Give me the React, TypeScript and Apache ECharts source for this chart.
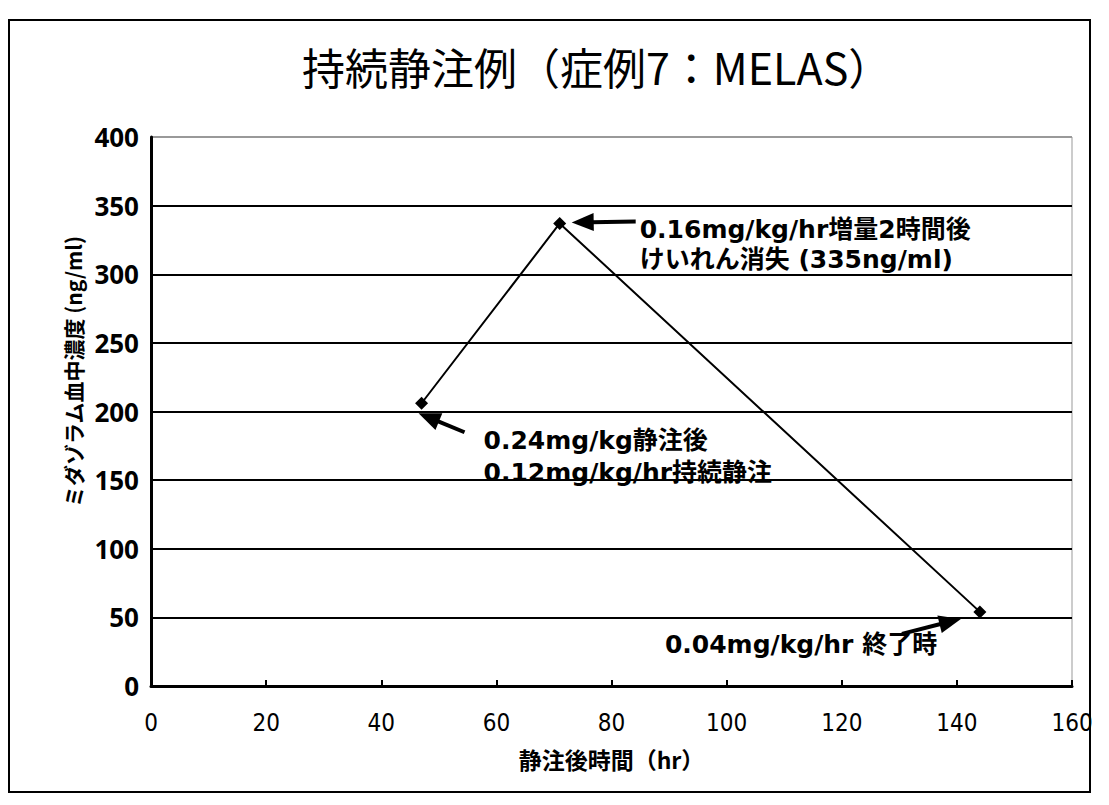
import React, { useEffect, useRef } from "react";
import * as echarts from "echarts";

const titleText = "持続静注例（症例7：MELAS）";
const xAxisName = "静注後時間（hr）";
const yAxisName = "ミダゾラム血中濃度 (ng/ml)";
const hours = [47, 71, 144];
const concentrations = [206, 337, 54];
const noteInitial = ["0.24mg/kg静注後", "0.12mg/kg/hr持続静注"];
const notePeak = ["0.16mg/kg/hr増量2時間後", "けいれん消失 (335ng/ml)"];
const noteEnd = ["0.04mg/kg/hr 終了時"];
const xMin = 0, xMax = 160, xStep = 20;
const yMin = 0, yMax = 400, yStep = 50;

const FONT_NUM = "'Noto Sans', 'DejaVu Sans', sans-serif";
const FONT_NARROW = "'Liberation Sans Narrow', 'DejaVu Sans Condensed', 'Noto Sans', sans-serif";
const FONT_JP = "'Noto Sans CJK JP', 'Noto Sans', sans-serif";
const FONT_NOTE = "'DejaVu Sans', 'Noto Sans CJK JP', sans-serif";

function arrow(x1: number, y1: number, x2: number, y2: number) {
  const dx = x2 - x1, dy = y2 - y1;
  const len = Math.sqrt(dx * dx + dy * dy);
  const ux = dx / len, uy = dy / len;
  const head = 22, half = 9;
  const bx = x2 - ux * head, by = y2 - uy * head;
  const px = -uy, py = ux;
  return [
    { type: "line", shape: { x1, y1, x2: bx + ux * 2, y2: by + uy * 2 }, style: { stroke: "#000", lineWidth: 4 }, silent: true },
    {
      type: "polygon",
      shape: { points: [[x2, y2], [bx + px * half, by + py * half], [bx - px * half, by - py * half]] },
      style: { fill: "#000" },
      silent: true,
    },
  ];
}

function note(lines: string[], x: number, y: number, lh: number) {
  return {
    type: "text",
    x,
    y,
    silent: true,
    style: {
      text: lines.join("\n"),
      fill: "#000",
      fontFamily: FONT_NOTE,
      fontSize: 25,
      fontWeight: "bold",
      lineHeight: lh,
      verticalAlign: "middle",
      align: "left",
    },
  };
}

export default function App() {
  const ref = useRef<HTMLDivElement>(null);
  useEffect(() => {
    if (!ref.current) return;
    const chart = echarts.init(ref.current, null, { renderer: "svg" });
    const lineCount = (yMax - yMin) / yStep + 1;
    const splitColors = Array.from({ length: lineCount }, (_, i) => (i === lineCount - 1 ? "#999" : "#000"));
    chart.setOption({
      animation: false,
      backgroundColor: "#fff",
      title: {
        text: titleText,
        left: 297,
        top: 39,
        textStyle: { fontFamily: FONT_JP, fontSize: 43, fontWeight: "normal", color: "#000" },
      },
      grid: { left: 151, right: 37, top: 137, bottom: 119, show: true, borderColor: "#999", borderWidth: 1, backgroundColor: "#fff" },
      xAxis: {
        type: "value",
        min: xMin,
        max: xMax,
        interval: xStep,
        name: xAxisName,
        nameLocation: "middle",
        nameGap: 61,
        nameTextStyle: { fontFamily: FONT_JP, fontSize: 23, fontWeight: "bold", color: "#000" },
        axisLine: { lineStyle: { color: "#000", width: 3 } },
        axisTick: { inside: true, length: 6, lineStyle: { color: "#000", width: 2 } },
        axisLabel: { margin: 25, fontFamily: FONT_NARROW, fontSize: 24, color: "#000" },
        splitLine: { show: false },
      },
      yAxis: {
        type: "value",
        min: yMin,
        max: yMax,
        interval: yStep,
        name: yAxisName,
        nameLocation: "middle",
        nameGap: 64,
        nameTextStyle: { fontFamily: FONT_JP, fontSize: 21, fontWeight: "bold", color: "#000", padding: [0, 0, 0, 80] },
        axisLine: { lineStyle: { color: "#000", width: 3 } },
        axisTick: { show: false },
        axisLabel: { margin: 12, fontFamily: FONT_NUM, fontSize: 26, fontWeight: "bold", color: "#000", padding: [10, 0, 0, 0] },
        splitLine: { show: true, lineStyle: { color: splitColors, width: 2 } },
      },
      series: [
        {
          type: "line",
          data: hours.map((h, i) => [h, concentrations[i]]),
          symbol: "diamond",
          symbolSize: 13,
          itemStyle: { color: "#000" },
          lineStyle: { color: "#000", width: 2 },
          z: 5,
        },
      ],
    });
    const pts = hours.map((h, i) => chart.convertToPixel({ gridIndex: 0 }, [h, concentrations[i]]) as number[]);
    const [p1, p2, p3] = pts;
    const graphics: any[] = [
      { type: "rect", shape: { x: 9, y: 20, width: 1081, height: 772 }, style: { fill: "none", stroke: "#000", lineWidth: 2 }, silent: true },
      ...arrow(p2[0] + 76, p2[1] - 2, p2[0] + 12, p2[1] - 1),
      ...arrow(p1[0] + 43, p1[1] + 29, p1[0] - 3, p1[1] + 10),
      ...arrow(p3[0] - 78, p3[1] + 22, p3[0] - 19, p3[1] + 7),
      note(notePeak, p2[0] + 80, p2[1] + 21, 30),
      note(noteInitial, p1[0] + 62, p1[1] + 53, 32),
      note(noteEnd, p3[0] - 315, p3[1] + 33, 30),
    ];
    chart.setOption({ graphic: graphics });
    return () => chart.dispose();
  }, []);
  return <div ref={ref} style={{ position: "absolute", left: 0, top: 0, width: 1109, height: 805 }} />;
}
